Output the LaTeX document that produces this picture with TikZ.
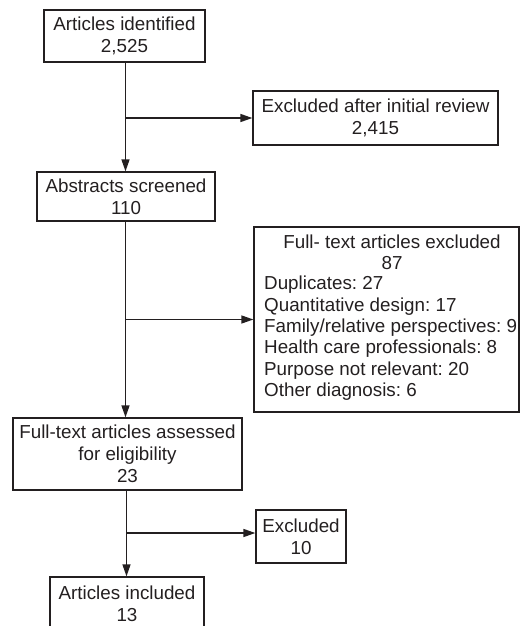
\documentclass[tikz,border=0pt]{standalone}
\usepackage{fontspec}
\setmainfont{Liberation Sans}
\frenchspacing
\usetikzlibrary{arrows.meta}
\definecolor{ink}{RGB}{35,31,32}
\begin{document}
\begin{tikzpicture}[x=1pt,y=-1pt,
  box/.style={draw=ink, line width=1.3pt, inner sep=0pt, align=center,
    font=\fontsize{18.8}{22}\selectfont, text=ink},
  txt/.style={inner sep=0pt, text=ink},
  conn/.style={draw=ink, line width=1.5pt},
  arr/.style={conn, -{Triangle[length=12pt,width=8pt]}}]
\useasboundingbox (0,0) rectangle (523,626);
\node[box, minimum width=161, minimum height=52] (b1) at (124.5,36) {Articles identified\\2,525};
\node[box, minimum width=245, minimum height=54] (ex1) at (375.5,118) {Excluded after initial review\\2,415};
\node[box, minimum width=178, minimum height=49] (b2) at (126,196.5) {Abstracts screened\\110};
\node[box, minimum width=265, minimum height=185] (ex2) at (386.5,319.5) {};
\node[txt, align=center, font=\fontsize{18.8}{21}\selectfont] (ex2t) at (392,252.5) {Full- text articles excluded\\87};
\node[txt, align=left, anchor=north west, font=\fontsize{18.8}{21.3}\selectfont] (ex2l) at (264,276) {Duplicates: 27\\Quantitative design: 17\\Family/relative perspectives: 9\\Health care professionals: 8\\Purpose not relevant: 20\\Other diagnosis: 6};
\node[box, minimum width=229, minimum height=72] (b3) at (127.5,454) {Full-text articles assessed\\for eligibility\\23};
\node[box, minimum width=90, minimum height=53] (ex3) at (301,536.5) {Excluded\\10};
\node[box, minimum width=154, minimum height=54] (b4) at (127,604) {Articles included\\13};
\coordinate (c1) at (125.5,0);
\coordinate (c3) at (126.5,0);
\draw[arr] (c1 |- b1.south) -- (c1 |- b2.north);
\draw[arr] (c1 |- ex1.west) -- (ex1.west);
\draw[arr] (c1 |- b2.south) -- (c1 |- b3.north);
\draw[arr] (c1 |- ex2.west) -- (ex2.west);
\draw[arr] (c3 |- b3.south) -- (c3 |- b4.north);
\draw[arr] (c3 |- 0,533) -- (ex3.west |- 0,533);
\end{tikzpicture}
\end{document}
